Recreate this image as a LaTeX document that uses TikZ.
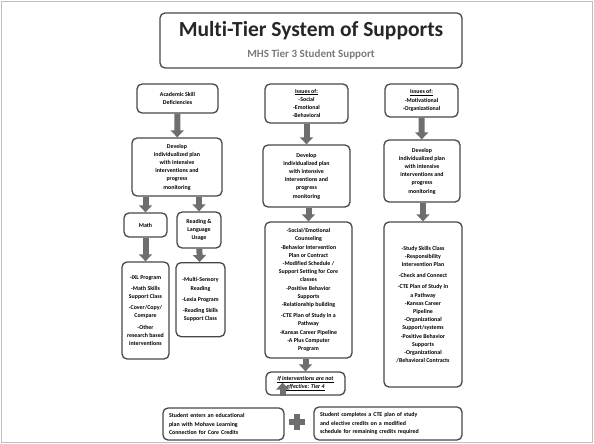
\documentclass[tikz,border=0pt]{standalone}
\usepackage{fontspec}
\setmainfont{Carlito}[Ligatures=NoCommon]
\usetikzlibrary{arrows.meta}
\definecolor{boxline}{HTML}{474747}
\definecolor{arrowfill}{HTML}{6E6E6E}
\definecolor{subgray}{HTML}{7A7A7A}
\tikzset{
  box/.style={draw=boxline, line width=1.3pt, rounded corners=5pt, align=center, inner sep=1pt,
    font=\bfseries\fontsize{5.9}{8.2}\selectfont},
  leftbox/.style={box, align=left},
  blockarrow/.style={draw=arrowfill, line width=6pt, -{Triangle[width=13pt,length=7pt]}},
}
\begin{document}
\begin{tikzpicture}[x=1pt,y=-1pt]
\useasboundingbox (0,0) rectangle (594,444);
\draw[black!25, line width=0.8pt] (1.5,1.5) rectangle (592.5,442.5);

\node[box, minimum width=302pt, minimum height=55pt] (title) at (311,40.5) {};
\node[font=\bfseries\fontsize{21.5}{24}\selectfont, text=black!85] (tt) at (311,31) {Multi-Tier System of Supports};
\node[font=\bfseries\fontsize{11}{12}\selectfont, text=subgray] (ts) at (311,55) {MHS Tier 3 Student Support};

\node[box, minimum width=81pt, minimum height=29pt] (a1) at (177.5,98.5) {Academic Skill\\Deficiencies};
\node[box, minimum width=83pt, minimum height=39pt] (a2) at (306.5,103.5) {\underline{Issues of:}\\-Social\\-Emotional\\-Behavioral};
\node[box, minimum width=73pt, minimum height=33pt] (a3) at (421.5,100.5) {\underline{Issues of:}\\-Motivational\\-Organizational};

\node[box, minimum width=90pt, minimum height=58pt] (d1) at (177,167) {Develop\\individualized plan\\with intensive\\interventions and\\progress\\monitoring};
\node[box, minimum width=87pt, minimum height=62pt] (d2) at (306.5,176) {Develop\\individualized plan\\with intensive\\interventions and\\progress\\monitoring};
\node[box, minimum width=76pt, minimum height=62pt] (d3) at (422,171) {Develop\\individualized plan\\with intensive\\interventions and\\progress\\monitoring};

\node[box, minimum width=43pt, minimum height=24pt] (m) at (145.5,225) {Math};
\node[box, minimum width=44pt, minimum height=36pt] (r) at (199,230) {Reading \&\\Language\\Usage};

\node[box, minimum width=47pt, minimum height=97pt] (ml) at (145.5,310.5) {-IXL Program\\[3pt]-Math Skills\\Support Class\\[3pt]-Cover/Copy/\\Compare\\[3pt]-Other\\research based\\interventions};
\node[box, minimum width=49pt, minimum height=74pt, anchor=north] (rl) at (200.5,262) {\\[-4pt]-Multi-Sensory\\Reading\\[3pt]-Lexia Program\\[3pt]-Reading Skills\\Support Class};

\node[box, minimum width=87pt, minimum height=136pt] (l2) at (308.5,290) {-Social/Emotional\\Counseling\\-Behavior Intervention\\Plan or Contract\\-Modified Schedule /\\Support Setting for Core\\classes\\-Positive Behavior\\Supports\\-Relationship building\\[3pt]-CTE Plan of Study in a\\Pathway\\-Kansas Career Pipeline\\-A Plus Computer\\Program};
\node[box, minimum width=78pt, minimum height=165pt] (l3) at (423,304.5) {-Study Skills Class\\-Responsibility\\Intervention Plan\\[3pt]-Check and Connect\\[3pt]-CTE Plan of Study in\\a Pathway\\-Kansas Career\\Pipeline\\-Organizational\\Support/systems\\-Positive Behavior\\Supports\\-Organizational\\/Behavioral Contracts};

\node[box, minimum width=79pt, minimum height=23pt] (t4) at (305.5,383.5) {\underline{\itshape If interventions are not}\\\underline{\itshape effective: Tier 4}};

\node[leftbox, minimum width=121pt, minimum height=32pt, inner xsep=6pt, text width=109pt] (bl) at (223.5,424) {Student enters an educational\\plan with Mohave Learning\\Connection for Core Credits};
\node[leftbox, minimum width=148pt, minimum height=33pt, inner xsep=6pt, text width=136pt] (br) at (388,423.5) {Student completes a CTE plan of study\\and elective credits on a modified\\schedule for remaining credits required};

\coordinate (plus) at (297,422);
\draw[arrowfill, line width=5.5pt] ([xshift=-8pt]plus) -- ([xshift=8pt]plus);
\draw[arrowfill, line width=5.5pt] ([yshift=-8pt]plus) -- ([yshift=8pt]plus);

\draw[blockarrow] (a1) -- (d1);
\draw[blockarrow] (a2) -- (d2);
\draw[blockarrow] (a3) -- (d3);
\draw[blockarrow] (d1.south -| m) -- (m);
\draw[blockarrow] (d1.south -| r) -- (r);
\draw[blockarrow] (m) -- (ml);
\draw[blockarrow] (r) -- (rl);
\draw[blockarrow] (d2.south -| l2) -- (l2);
\draw[blockarrow] (d3.south -| l3) -- (l3);
\draw[blockarrow] (l2.south -| t4) -- (t4);
\draw[blockarrow] (t4.south -| bl.north east) ++(-2pt,0) -- ++(0,13pt);
\end{tikzpicture}
\end{document}
